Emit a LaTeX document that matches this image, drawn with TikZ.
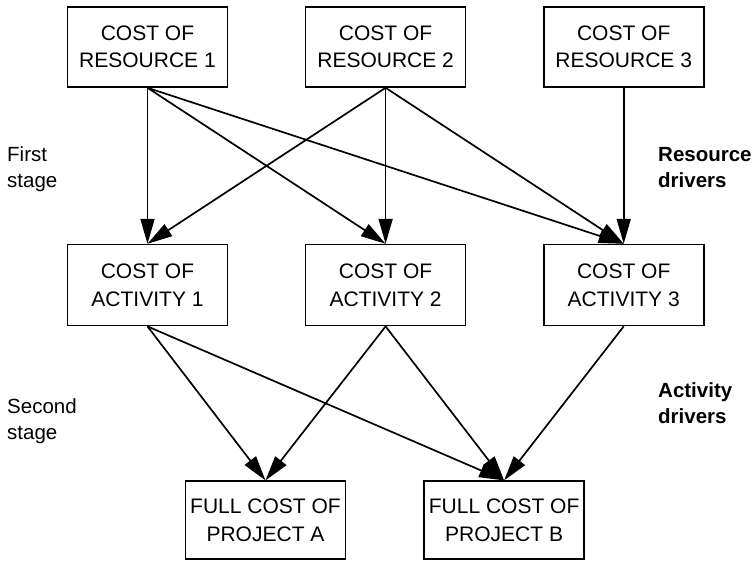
\documentclass[tikz,border=0pt]{standalone}
\usepackage{fontspec}
\setmainfont{Liberation Sans}
\usetikzlibrary{positioning, arrows.meta}

\begin{document}
\begin{tikzpicture}[
  x=1pt, y=1pt,
  costbox/.style={draw=black, line width=1.6pt, align=center, inner sep=0pt,
               minimum width=160pt, minimum height=80pt,
               font=\fontsize{21}{27.5}\selectfont},
  stagetext/.style={align=left, anchor=west, inner sep=0pt,
               font=\fontsize{20.5}{26}\selectfont},
  drivertext/.style={stagetext, font=\fontsize{20.5}{26}\selectfont\bfseries},
  arrow/.style={-{Triangle[length=25pt, width=14pt]}, line width=1.7pt},
]
\useasboundingbox (0,0) rectangle (755,-561);
% resources
\node[costbox] (r1) at (147.5,-47) {COST OF\\RESOURCE 1};
\node[costbox, right=76.5pt of r1] (r2) {COST OF\\RESOURCE 2};
\node[costbox, right=76.5pt of r2] (r3) {COST OF\\RESOURCE 3};
% activities
\node[costbox, below=156pt of r1, minimum height=81pt] (a1) {COST OF\\ACTIVITY 1};
\node[costbox, right=76.5pt of a1, minimum height=81pt] (a2) {COST OF\\ACTIVITY 2};
\node[costbox, right=76.5pt of a2, minimum height=81pt] (a3) {COST OF\\ACTIVITY 3};
% projects
\node[costbox, below=154pt of a1, xshift=118pt, minimum height=78pt] (pa) {FULL COST OF\\PROJECT A};
\node[costbox, right=77pt of pa, minimum height=78pt] (pb) {FULL COST OF\\PROJECT B};
% side texts
\node[stagetext] (first) at (7,-169) {First\\stage};
\node[stagetext] (second) at (7,-421) {Second\\stage};
\node[drivertext] (resdrv) at (658,-168) {Resource\\drivers};
\node[drivertext] (actdrv) at (658,-403) {Activity\\drivers};
% resource drivers
\draw[arrow] (r1.south) -- (a1.north);
\draw[arrow] (r1.south) -- (a2.north);
\draw[arrow] (r1.south) -- (a3.north);
\draw[arrow] (r2.south) -- (a1.north);
\draw[arrow] (r2.south) -- (a2.north);
\draw[arrow] (r2.south) -- (a3.north);
\draw[arrow] (r3.south) -- (a3.north);
% activity drivers
\draw[arrow] (a1.south) -- (pa.north);
\draw[arrow] (a1.south) -- (pb.north);
\draw[arrow] (a2.south) -- (pa.north);
\draw[arrow] (a2.south) -- (pb.north);
\draw[arrow] (a3.south) -- (pb.north);
\end{tikzpicture}
\end{document}
